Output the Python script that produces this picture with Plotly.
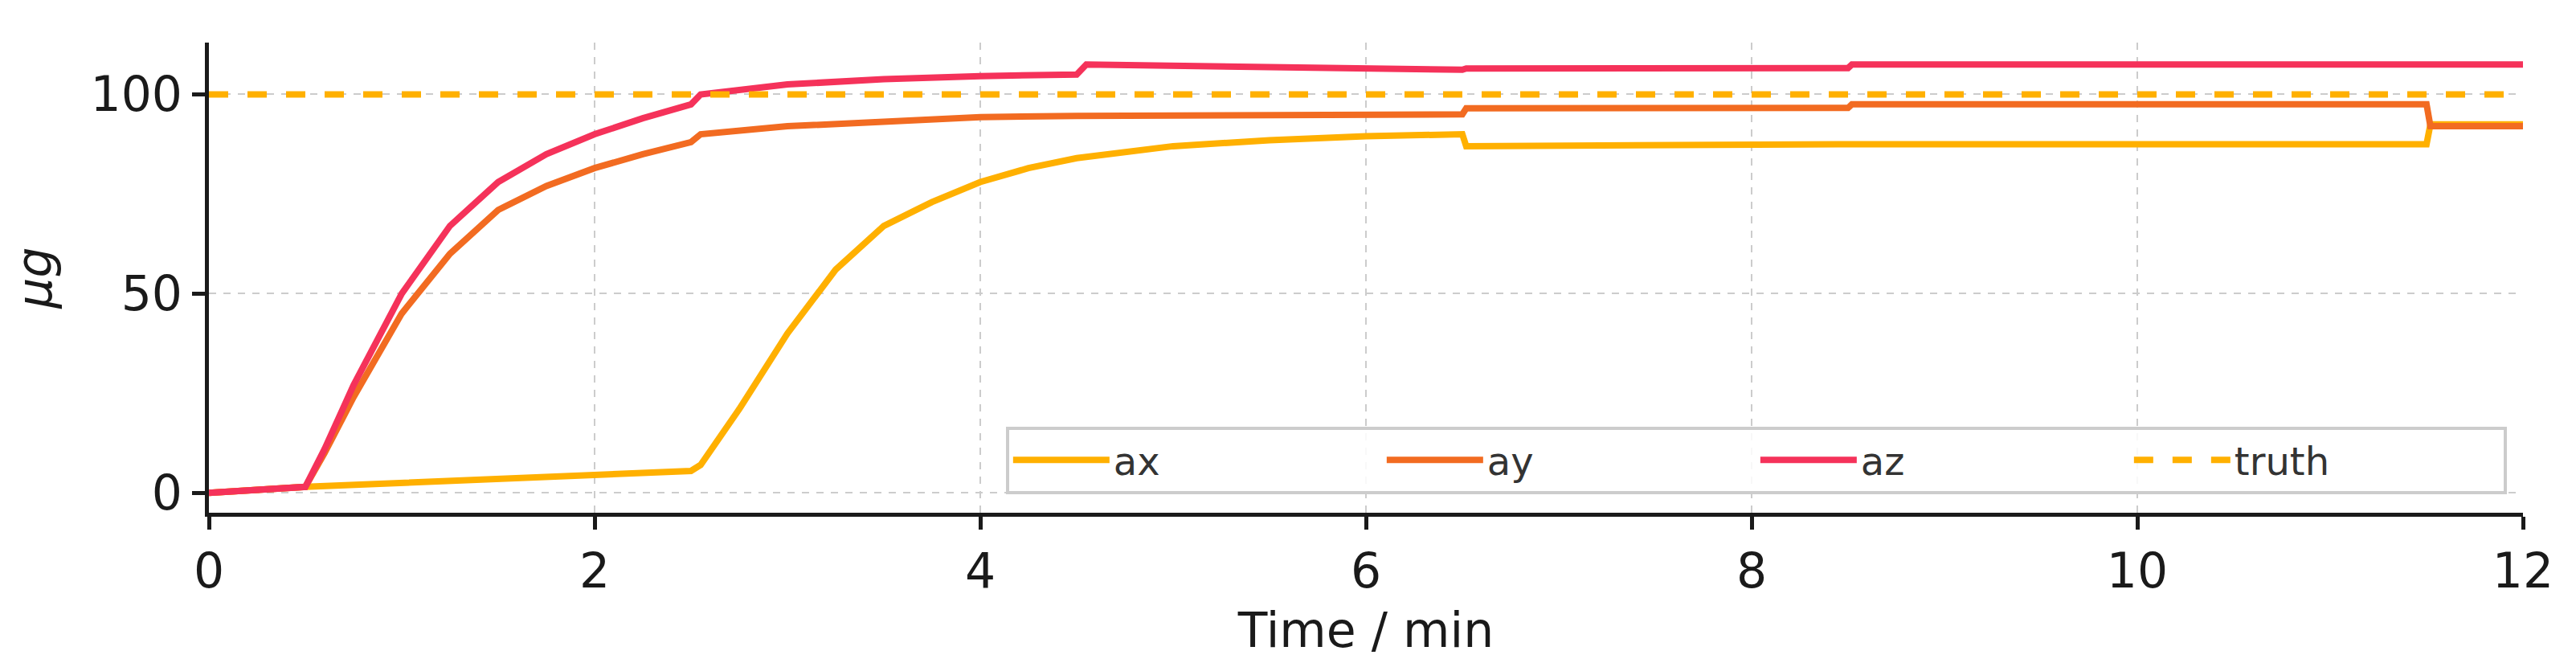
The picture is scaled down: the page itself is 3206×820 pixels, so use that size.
import plotly.graph_objects as go

# values
t_ax = [0, 0.5, 2.5, 2.55, 2.75, 3.0, 3.25, 3.5, 3.75, 4.0, 4.25, 4.5, 5.0, 5.5, 6.0, 6.5, 6.52, 8.5, 8.52, 11.5, 11.52, 12]
v_ax = [0, 1.5, 5.5, 7, 21, 40, 56, 67, 73, 78, 81.5, 84, 87, 88.5, 89.5, 90, 87, 87.3, 87.5, 87.5, 92.5, 92.5]

t_ay = [0, 0.5, 0.6, 0.75, 1.0, 1.25, 1.5, 1.75, 2.0, 2.25, 2.5, 2.55, 3.0, 3.5, 4.0, 4.5, 6.5, 6.52, 8.5, 8.52, 11.5, 11.52, 12]
v_ay = [0, 1.5, 10, 24, 45, 60, 71, 77, 81.5, 85, 88, 90, 92, 93.3, 94.3, 94.6, 95, 96.5, 96.6, 97.5, 97.5, 92, 92]

t_az = [0, 0.5, 0.6, 0.75, 1.0, 1.25, 1.5, 1.75, 2.0, 2.25, 2.5, 2.55, 3.0, 3.5, 4.0, 4.5, 4.55, 5.5, 6.5, 6.52, 8.5, 8.52, 12]
v_az = [0, 1.5, 11, 27, 50, 67, 78, 85, 90, 94, 97.5, 100, 102.5, 103.8, 104.6, 105, 107.5, 106.7, 106.2, 106.5, 106.6, 107.5, 107.5]

truth = 100

fig = go.Figure()
for name, t, v, c in [("ax", t_ax, v_ax, "#FFB000"),
                      ("ay", t_ay, v_ay, "#F26B21"),
                      ("az", t_az, v_az, "#F5325A")]:
    fig.add_trace(go.Scatter(x=t, y=v, mode="lines", name=name,
                             line=dict(color=c, width=8)))
fig.add_trace(go.Scatter(x=[0, 12], y=[truth, truth], mode="lines", name="truth",
                         line=dict(color="#FFB000", width=8, dash="dash")))

axis_common = dict(showline=True, linecolor="#1a1a1a", linewidth=5,
                   ticks="outside", ticklen=16, tickwidth=5, tickcolor="#1a1a1a",
                   gridcolor="#cccccc", griddash="dash", gridwidth=2,
                   zeroline=False, tickfont=dict(size=60, color="#1a1a1a"))

fig.update_layout(
    width=3206, height=820,
    plot_bgcolor="white", paper_bgcolor="white",
    font=dict(family="DejaVu Sans", color="#1a1a1a"),
    margin=dict(l=252, r=74, t=45, b=190),
    xaxis=dict(range=[0, 12], dtick=2, title=dict(text="Time / min", font=dict(size=60), standoff=20), **axis_common),
    yaxis=dict(range=[-5, 113], tickvals=[0, 50, 100],
               title=dict(text="<i>μg</i>", font=dict(size=60), standoff=40), **axis_common),
    legend=dict(orientation="h", x=0.993, y=0.04, xanchor="right", yanchor="bottom",
                bordercolor="#cccccc", borderwidth=4, bgcolor="rgba(255,255,255,0.85)",
                font=dict(size=48, color="#333333"), entrywidth=330, itemwidth=120),
    showlegend=True,
)

fig.write_html("out.html")
